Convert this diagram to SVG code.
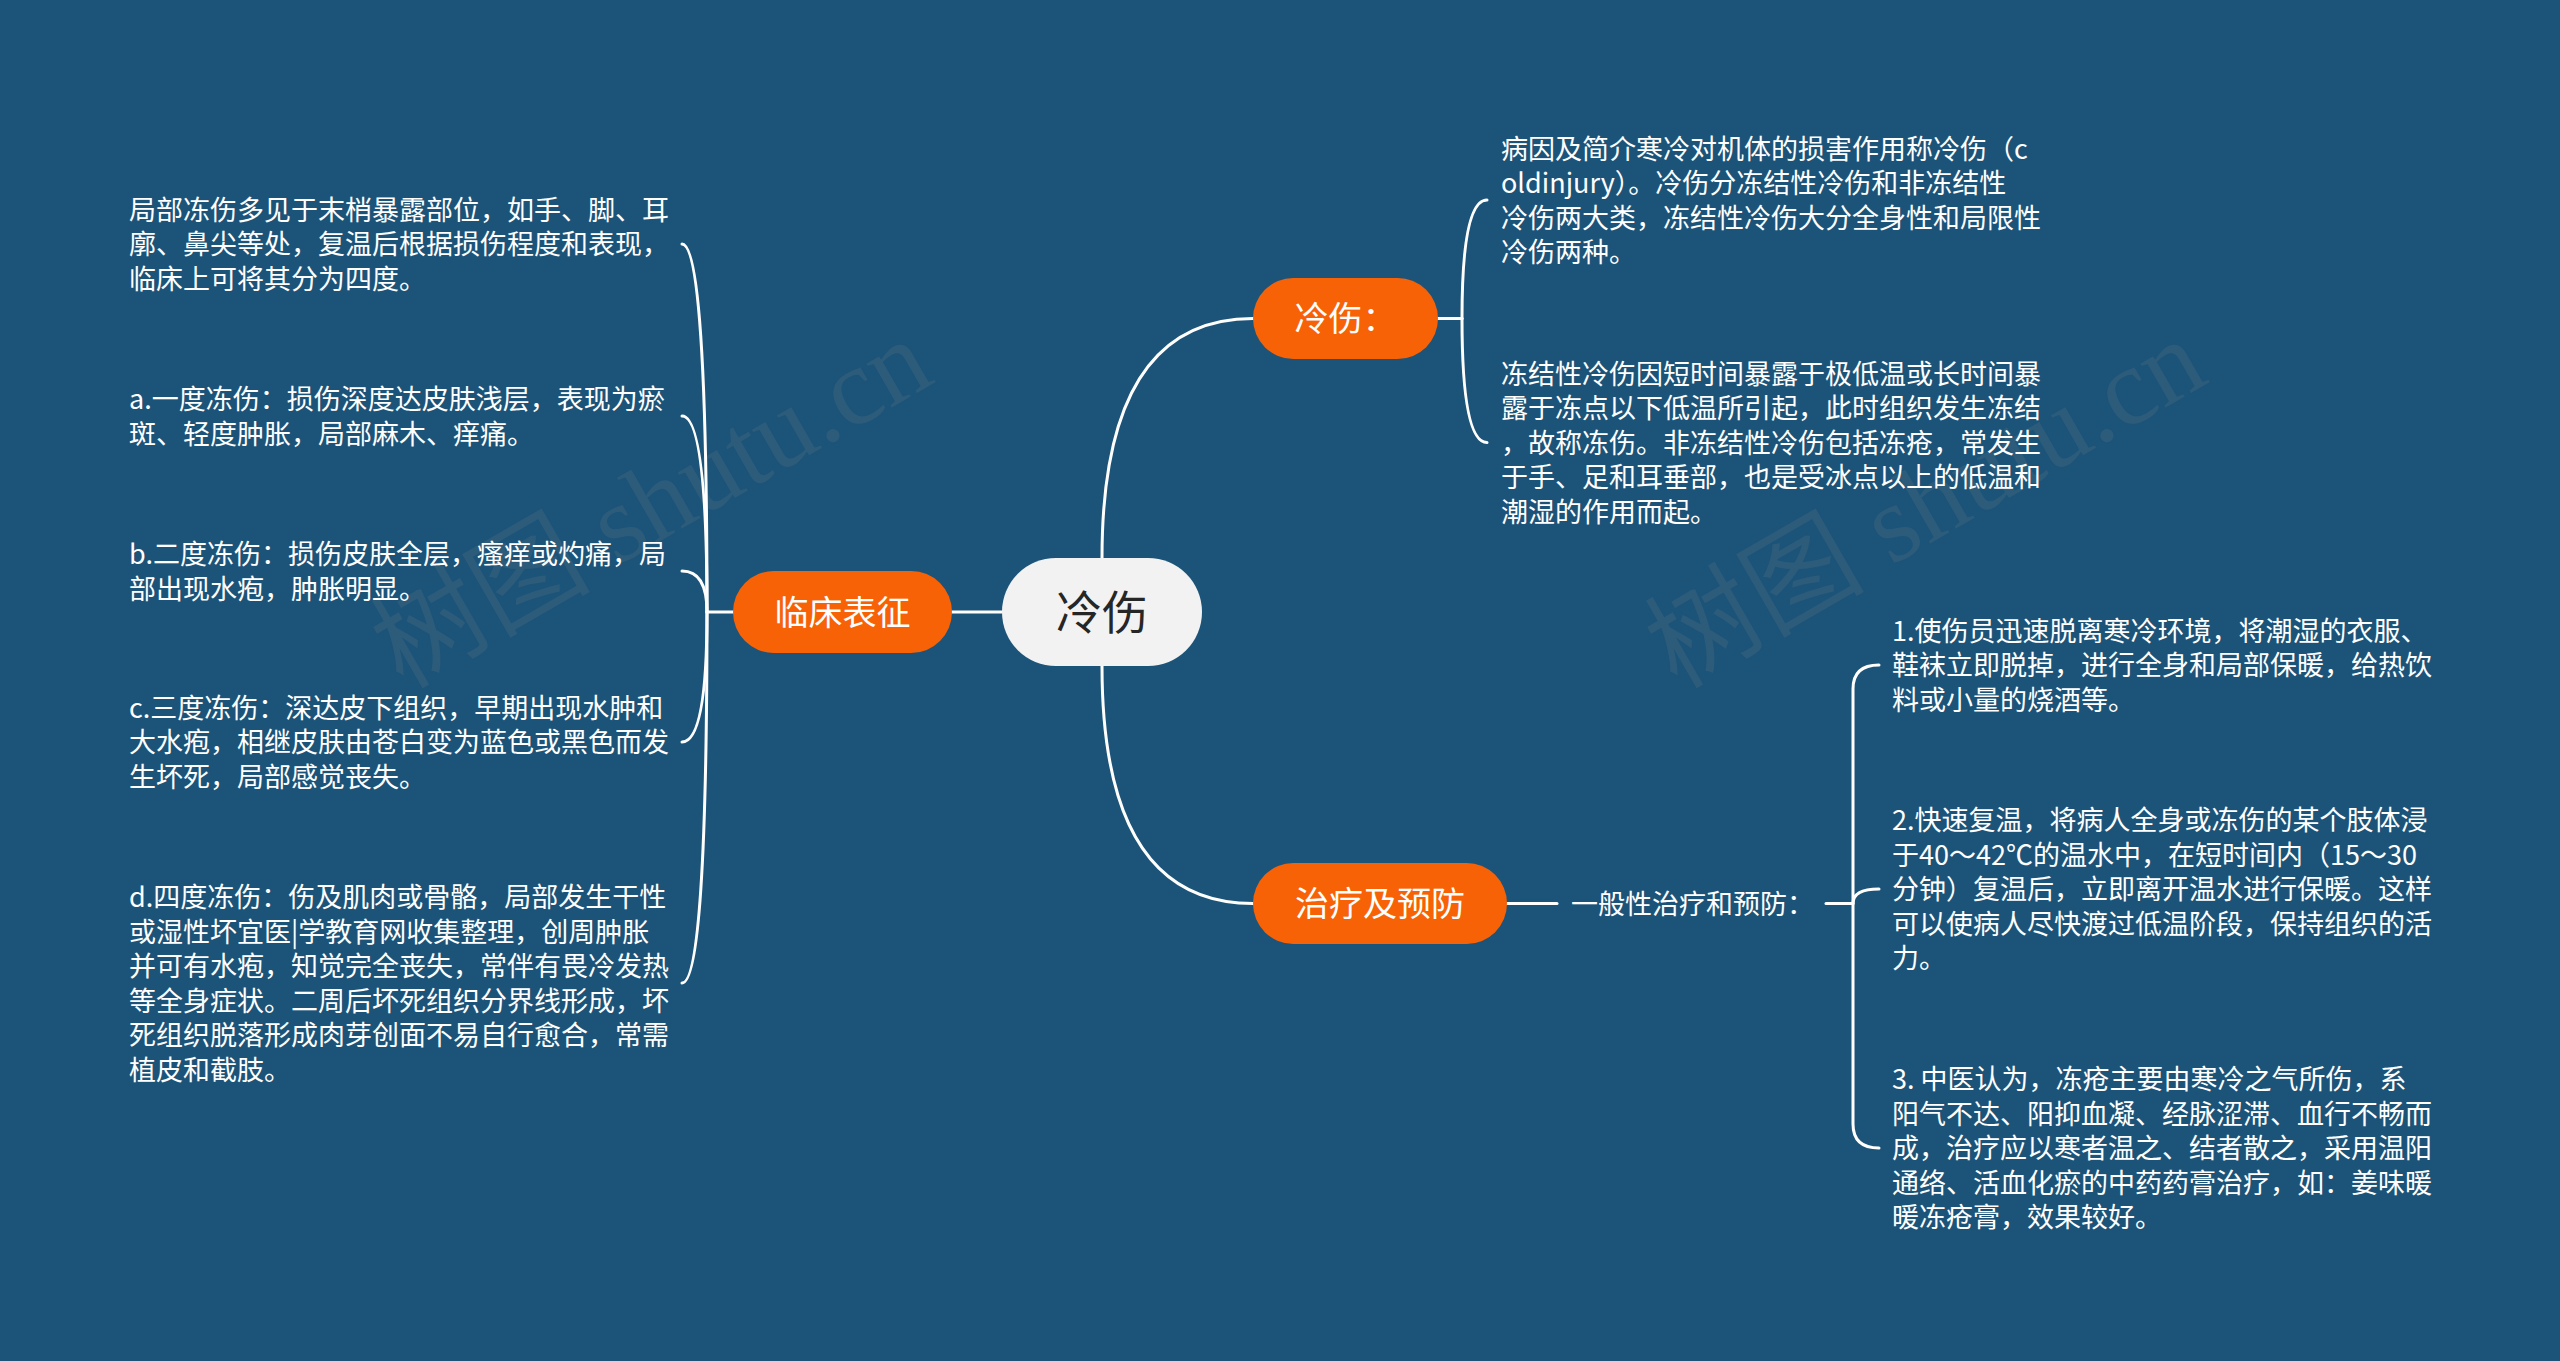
<svg xmlns="http://www.w3.org/2000/svg" width="2560" height="1361" viewBox="0 0 2560 1361">
<defs>
<style>
.bg{fill:#1c5479}
.wm{font-family:"Liberation Serif","Noto Sans CJK SC",serif;font-size:110px;fill:#8a8a8a;fill-opacity:0.16}
.conn{fill:none;stroke:#ffffff;stroke-width:3;stroke-linecap:round}
.main{fill:#f2f2f2}
.mainT{font-family:"Noto Sans CJK SC","Noto Sans CJK JP",sans-serif;font-size:46px;fill:#262626;text-anchor:middle}
.sub{fill:#f86207}
.subT{font-family:"Noto Sans CJK SC","Noto Sans CJK JP",sans-serif;font-size:34px;fill:#ffffff;text-anchor:middle}
.leaf{font-family:"Noto Sans CJK SC","Noto Sans CJK JP",sans-serif;font-size:27px;fill:#ffffff}
</style>
</defs>
<rect class="bg" x="0" y="0" width="2560" height="1361"/>
<g id="watermarks">
<text class="wm" x="653" y="540" text-anchor="middle" transform="rotate(-30 653 506)">树图 shutu.cn</text>
<text class="wm" x="1927" y="540" text-anchor="middle" transform="rotate(-30 1927 506)">树图 shutu.cn</text>
</g>
<g id="connectors">
<path class="conn" d="M1002 612 L952 612"/>
<path class="conn" d="M733 612 L707 612"/>
<path class="conn" d="M707 612 Q707 244 682 244"/>
<path class="conn" d="M707 612 Q707 416 682 416"/>
<path class="conn" d="M707 612 Q707 571 682 571"/>
<path class="conn" d="M707 612 Q707 742 682 742"/>
<path class="conn" d="M707 612 Q707 983 682 983"/>
<path class="conn" d="M1102 558 Q1102 318.5 1253 318.5"/>
<path class="conn" d="M1102 666 Q1102 903.5 1253 903.5"/>
<path class="conn" d="M1438 318.5 L1462 318.5"/>
<path class="conn" d="M1462 318.5 Q1462 200 1487 200"/>
<path class="conn" d="M1462 318.5 Q1462 442.5 1487 442.5"/>
<path class="conn" d="M1507 903.5 L1557 903.5"/>
<path class="conn" d="M1826 903.5 L1853 903.5"/>
<path class="conn" d="M1879 665 Q1853 665 1853 689 L1853 1124 Q1853 1148 1879 1148"/>
<path class="conn" d="M1853 903.5 Q1853 889 1879 889"/>
</g>
<g id="node-root">
<rect class="main" x="1002" y="558" width="200" height="108" rx="54"/>
<text class="mainT" x="1102" y="629">冷伤</text>
</g>
<g id="node-clinical">
<rect class="sub" x="733" y="571" width="219" height="82" rx="41"/>
<text class="subT" x="842.5" y="625">临床表征</text>
</g>
<g id="node-coldinjury">
<rect class="sub" x="1253" y="278" width="185" height="81" rx="40.5"/>
<text class="subT" x="1345.5" y="331">冷伤：</text>
</g>
<g id="node-treatment">
<rect class="sub" x="1253" y="863" width="254" height="81" rx="40.5"/>
<text class="subT" x="1380" y="916">治疗及预防</text>
</g>
<g id="leaf-l1">
<text class="leaf" x="129" y="219.5"><tspan x="129">局部冻伤多见于末梢暴露部位，如手、脚、耳</tspan><tspan x="129" dy="34.5">廓、鼻尖等处，复温后根据损伤程度和表现，</tspan><tspan x="129" dy="34.5">临床上可将其分为四度。</tspan></text>
</g>
<g id="leaf-la">
<text class="leaf" x="129" y="409"><tspan x="129">a.一度冻伤：损伤深度达皮肤浅层，表现为瘀</tspan><tspan x="129" dy="34.5">斑、轻度肿胀，局部麻木、痒痛。</tspan></text>
</g>
<g id="leaf-lb">
<text class="leaf" x="129" y="564"><tspan x="129">b.二度冻伤：损伤皮肤全层，瘙痒或灼痛，局</tspan><tspan x="129" dy="34.5">部出现水疱，肿胀明显。</tspan></text>
</g>
<g id="leaf-lc">
<text class="leaf" x="129" y="717.5"><tspan x="129">c.三度冻伤：深达皮下组织，早期出现水肿和</tspan><tspan x="129" dy="34.5">大水疱，相继皮肤由苍白变为蓝色或黑色而发</tspan><tspan x="129" dy="34.5">生坏死，局部感觉丧失。</tspan></text>
</g>
<g id="leaf-ld">
<text class="leaf" x="129" y="907"><tspan x="129">d.四度冻伤：伤及肌肉或骨骼，局部发生干性</tspan><tspan x="129" dy="34.5">或湿性坏宜医|学教育网收集整理，创周肿胀</tspan><tspan x="129" dy="34.5">并可有水疱，知觉完全丧失，常伴有畏冷发热</tspan><tspan x="129" dy="34.5">等全身症状。二周后坏死组织分界线形成，坏</tspan><tspan x="129" dy="34.5">死组织脱落形成肉芽创面不易自行愈合，常需</tspan><tspan x="129" dy="34.5">植皮和截肢。</tspan></text>
</g>
<g id="leaf-r1">
<text class="leaf" x="1501" y="158.5"><tspan x="1501">病因及简介寒冷对机体的损害作用称冷伤（c</tspan><tspan x="1501" dy="34.5">oldinjury）。冷伤分冻结性冷伤和非冻结性</tspan><tspan x="1501" dy="34.5">冷伤两大类，冻结性冷伤大分全身性和局限性</tspan><tspan x="1501" dy="34.5">冷伤两种。</tspan></text>
</g>
<g id="leaf-r2">
<text class="leaf" x="1501" y="383.5"><tspan x="1501">冻结性冷伤因短时间暴露于极低温或长时间暴</tspan><tspan x="1501" dy="34.5">露于冻点以下低温所引起，此时组织发生冻结</tspan><tspan x="1501" dy="34.5">，故称冻伤。非冻结性冷伤包括冻疮，常发生</tspan><tspan x="1501" dy="34.5">于手、足和耳垂部，也是受冰点以上的低温和</tspan><tspan x="1501" dy="34.5">潮湿的作用而起。</tspan></text>
</g>
<g id="node-general">
<text class="leaf" x="1571" y="913.5">一般性治疗和预防：</text>
</g>
<g id="leaf-t1">
<text class="leaf" x="1892" y="640.5"><tspan x="1892">1.使伤员迅速脱离寒冷环境，将潮湿的衣服、</tspan><tspan x="1892" dy="34.5">鞋袜立即脱掉，进行全身和局部保暖，给热饮</tspan><tspan x="1892" dy="34.5">料或小量的烧酒等。</tspan></text>
</g>
<g id="leaf-t2">
<text class="leaf" x="1892" y="830"><tspan x="1892">2.快速复温，将病人全身或冻伤的某个肢体浸</tspan><tspan x="1892" dy="34.5">于40～42℃的温水中，在短时间内（15～30</tspan><tspan x="1892" dy="34.5">分钟）复温后，立即离开温水进行保暖。这样</tspan><tspan x="1892" dy="34.5">可以使病人尽快渡过低温阶段，保持组织的活</tspan><tspan x="1892" dy="34.5">力。</tspan></text>
</g>
<g id="leaf-t3">
<text class="leaf" x="1892" y="1089"><tspan x="1892">3. 中医认为，冻疮主要由寒冷之气所伤，系</tspan><tspan x="1892" dy="34.5">阳气不达、阳抑血凝、经脉涩滞、血行不畅而</tspan><tspan x="1892" dy="34.5">成，治疗应以寒者温之、结者散之，采用温阳</tspan><tspan x="1892" dy="34.5">通络、活血化瘀的中药药膏治疗，如：姜味暖</tspan><tspan x="1892" dy="34.5">暖冻疮膏，效果较好。</tspan></text>
</g>
</svg>
